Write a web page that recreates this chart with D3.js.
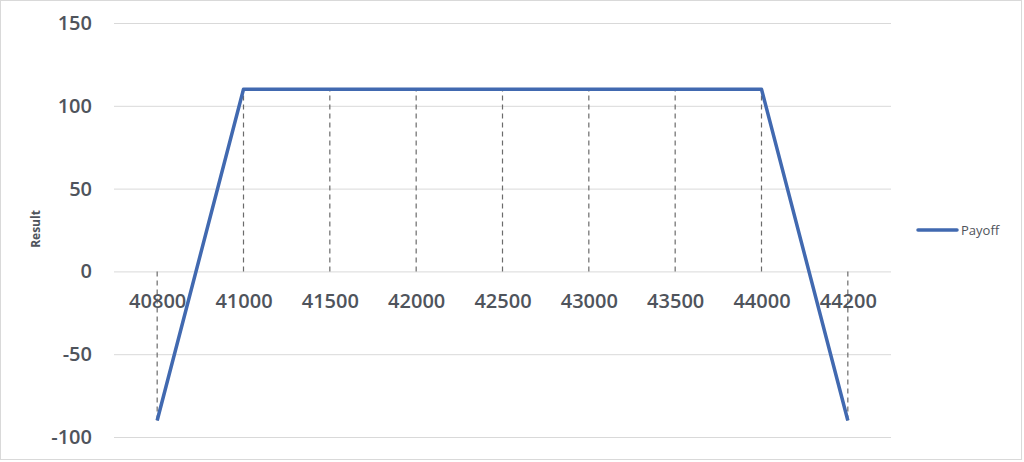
<!DOCTYPE html>
<html><head><meta charset="utf-8">
<script src="https://cdn.jsdelivr.net/npm/d3@7"></script>
<style>body{margin:0;background:#fff;}svg{display:block;font-family:"Open Sans",Lato,sans-serif;}</style>
</head><body>
<svg id="c" width="1024" height="462"></svg>
<script>
const categories = ["40800","41000","41500","42000","42500","43000","43500","44000","44200"];
const payoff = [-90,110,110,110,110,110,110,110,-90];
const yTicks = [-100,-50,0,50,100,150];
const seriesName = "Payoff";

(function(){
const svg = d3.select("#c");
const txt = "#4f545c";
svg.append("rect").attr("x",0.5).attr("y",0.5).attr("width",1021).attr("height",459)
  .attr("fill","#fff").attr("stroke","#d9d9d9");

const pl=114, pr=891, pt=23, pb=437;
const x = d3.scalePoint().domain(categories).range([pl,pr]).padding(0.5);
const y = d3.scaleLinear().domain([-100,150]).range([pb,pt]);

// gridlines
const yAxis = d3.axisLeft(y).tickValues(yTicks).tickSize(-(pr-pl)).tickFormat(d=>String(d)).tickPadding(22);
const gy = svg.append("g").attr("transform",`translate(${pl},0)`).call(yAxis);
gy.select(".domain").remove();
gy.selectAll(".tick line").attr("stroke","#d9d9d9").attr("stroke-width",1);
gy.selectAll(".tick text").attr("fill",txt).attr("font-size",20).attr("font-weight",600)
  .attr("font-family","'Open Sans',sans-serif");

// drop lines
svg.append("g").selectAll("line").data(categories).join("line")
  .attr("x1",d=>x(d)).attr("x2",d=>x(d))
  .attr("y1",y(0)).attr("y2",(d,i)=>y(payoff[i]))
  .attr("stroke","#6b6b6b").attr("stroke-width",1.2).attr("stroke-dasharray","5,4");

// x axis at zero
const xAxis = d3.axisBottom(x).tickSize(0).tickPadding(22);
const gx = svg.append("g").attr("transform",`translate(0,${y(0)})`).call(xAxis);
gx.select(".domain").remove();
gx.selectAll(".tick text").attr("fill",txt).attr("font-size",20).attr("font-weight",600)
  .attr("font-family","'Open Sans',sans-serif");

// line
const line = d3.line().x((d,i)=>x(categories[i])).y(d=>y(d));
svg.append("path").datum(payoff).attr("d",line).attr("fill","none")
  .attr("stroke","#4169b0").attr("stroke-width",3.5).attr("stroke-linejoin","round");

// axis title
svg.append("text").attr("transform",`translate(40,229) rotate(-90)`).attr("text-anchor","middle")
  .attr("fill",txt).attr("font-size",12).attr("font-weight","bold").text("Result");

// legend
svg.append("line").attr("x1",918).attr("x2",957).attr("y1",230).attr("y2",230)
  .attr("stroke","#4169b0").attr("stroke-width",3.5).attr("stroke-linecap","round");
svg.append("text").attr("x",961).attr("y",235).attr("fill",txt).attr("font-size",13).text(seriesName);
})();
</script>
</body></html>
